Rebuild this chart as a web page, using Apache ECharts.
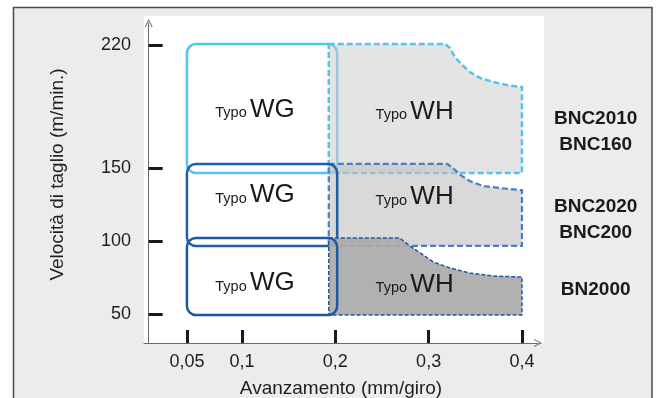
<!DOCTYPE html>
<html><head><meta charset="utf-8">
<script src="https://cdn.jsdelivr.net/npm/echarts@6/dist/echarts.min.js"></script>
<style>html,body{margin:0;padding:0;background:#fff}#c{width:656px;height:398px}</style>
</head><body><div id="c"></div>
<script>
// ---- axis ticks ----
const xTicks = [0.05, 0.1, 0.2, 0.3, 0.4];
const xTickLabels = ['0,05', '0,1', '0,2', '0,3', '0,4'];
const yTicks = [50, 100, 150, 220];
const yTickLabels = ['50', '100', '150', '220'];

// ---- WG zones (rounded boxes): feed range, speed range ----
const wgFeedFrom = [0.05, 0.05, 0.05];
const wgFeedTo = [0.202, 0.202, 0.202];
const wgSpeedTop = [220.7, 152.3, 102];
const wgSpeedBottom = [146.6, 96.6, 49.3];

// ---- WH zones (dashed outlines): feed / speed along the outline ----
const whTopFeed  = [0.193, 0.3175, 0.323, 0.328, 0.336, 0.344, 0.355, 0.369, 0.384, 0.4, 0.4, 0.193];
const whTopSpeed = [220.7, 220.7, 218.5, 213.3, 208.8, 204.8, 201.4, 199.1, 197.3, 196.2, 146.6, 146.6];
const whMidFeed  = [0.193, 0.32, 0.326, 0.334, 0.344, 0.358, 0.376, 0.398, 0.4, 0.4, 0.193];
const whMidSpeed = [152.3, 152.3, 150, 145.2, 141.1, 137.7, 136.3, 134.9, 134.9, 96.6, 96.6];
const whLowFeed  = [0.193, 0.269, 0.28, 0.291, 0.305, 0.323, 0.344, 0.369, 0.4, 0.4, 0.193];
const whLowSpeed = [102, 102, 96.6, 91.8, 85.6, 81.5, 78.1, 76.0, 75.3, 49.3, 49.3];

// ---- zone labels ----
const zoneType  = ['WG', 'WH', 'WG', 'WH', 'WG', 'WH'];
const zoneFeed  = [0.114, 0.285, 0.114, 0.285, 0.114, 0.285];
const zoneSpeed = [183.1, 182.0, 131.5, 130.1, 71.2, 69.9];

// ---- grade labels on the right ----
const gradeNames = ['BNC2010\nBNC160', 'BNC2020\nBNC200', 'BN2000'];
const gradeFeed  = [0.479, 0.479, 0.479];
const gradeSpeed = [170.5, 114.7, 66.4];

// schematic (non-linear) axis scales of the original drawing
const xWarp = v => v >= 0.1 ? v : 0.1 - (0.1 - v) * 1.18;
const yWarp = v => v <= 150 ? v : 150 + (v - 150) * 1.2;

const FONT = '"Liberation Sans", Arial, sans-serif';
const whShapes = [
  {feed: whTopFeed, speed: whTopSpeed, fill: 'rgba(205,205,205,0.55)', stroke: '#55c3f1', lw: 2.5, dash: [6, 3]},
  {feed: whMidFeed, speed: whMidSpeed, fill: 'rgba(190,190,190,0.59)', stroke: '#4c7ec2', lw: 2.2, dash: [6, 3]},
  {feed: whLowFeed, speed: whLowSpeed, fill: 'rgba(170,170,170,0.92)', stroke: '#2257a3', lw: 1.5, dash: [4, 2]}
];
const wgColors = ['#56c2f0', '#1c5ea9', '#1b58a4'];
const layers = [['wg', 0], ['wh', 0], ['wh', 1], ['wg', 1], ['wh', 2], ['wg', 2]];

const arrow = 'path://M0,10 L5,0 L10,10 L8.7,10 L5,2.6 L1.3,10 Z';

const chart = echarts.init(document.getElementById('c'), null, {renderer: 'canvas'});
chart.setOption({
  animation: false,
  backgroundColor: '#ffffff',
  graphic: {elements: [
    {type: 'rect', z: -100, shape: {x: 13.5, y: 7.5, width: 638.5, height: 420}, style: {fill: '#ececec', stroke: '#4a4a4a', lineWidth: 1.5}},
    {type: 'rect', z: -99, shape: {x: 144, y: 16, width: 400, height: 327}, style: {fill: '#ffffff'}}
  ]},
  grid: {left: 144, right: 118, top: 23, bottom: 55, containLabel: false, outerBoundsMode: 'none'},
  xAxis: {
    type: 'value', min: -0.005, max: 0.4172,
    axisLine: {show: true, lineStyle: {color: '#6a6a6a', width: 1}, symbol: ['none', arrow], symbolSize: [8, 11]},
    axisTick: {show: true, inside: true, length: 13, lineStyle: {color: '#1a1a1a', width: 3}, customValues: xTicks.map(xWarp)},
    axisLabel: {customValues: xTicks.map(xWarp), margin: 10, fontSize: 18, color: '#1e1e1e', fontFamily: FONT,
      formatter: v => { const i = xTicks.findIndex(t => Math.abs(xWarp(t) - v) < 1e-6); return i >= 0 ? xTickLabels[i] : ''; }},
    splitLine: {show: false},
    name: 'Avanzamento (mm/giro)', nameLocation: 'middle', nameGap: 36,
    nameTextStyle: {fontSize: 19, color: '#1e1e1e', fontFamily: FONT}
  },
  yAxis: {
    type: 'value', min: 30.14, max: 249.3,
    axisLine: {show: true, lineStyle: {color: '#6a6a6a', width: 1}, symbol: ['none', arrow], symbolSize: [8, 11]},
    axisTick: {show: true, inside: true, length: 14, lineStyle: {color: '#1a1a1a', width: 3}, customValues: yTicks.map(yWarp)},
    axisLabel: {customValues: yTicks.map(yWarp), margin: 13, fontSize: 18, color: '#1e1e1e', fontFamily: FONT,
      formatter: v => { const i = yTicks.findIndex(t => Math.abs(yWarp(t) - v) < 1e-6); return i >= 0 ? yTickLabels[i] : ''; }},
    splitLine: {show: false},
    name: 'Velocità di taglio (m/min.)', nameLocation: 'middle', nameGap: 77,
    nameTextStyle: {fontSize: 19, color: '#1e1e1e', fontFamily: FONT, padding: [0, 0, 0, 17]}
  },
  series: [
    {
      type: 'custom', z: 2,
      data: layers.map((l, k) => [xWarp(0.2), yWarp(100), k]),
      encode: {x: 0, y: 1},
      renderItem: function (params, api) {
        const k = api.value(2);
        const kind = layers[k][0], i = layers[k][1];
        if (kind === 'wg') {
          const p0 = api.coord([xWarp(wgFeedFrom[i]), yWarp(wgSpeedTop[i])]);
          const p1 = api.coord([xWarp(wgFeedTo[i]), yWarp(wgSpeedBottom[i])]);
          return {type: 'rect', shape: {x: p0[0], y: p0[1], width: p1[0] - p0[0], height: p1[1] - p0[1], r: 9},
            style: {fill: 'none', stroke: wgColors[i], lineWidth: 2.5}};
        }
        const s = whShapes[i];
        const pts = s.feed.map((f, j) => api.coord([xWarp(f), yWarp(s.speed[j])]));
        return {type: 'polygon', shape: {points: pts},
          style: {fill: s.fill, stroke: s.stroke, lineWidth: s.lw, lineDash: s.dash}};
      }
    },
    {
      type: 'scatter', z: 5, symbolSize: 0, itemStyle: {color: '#000', opacity: 1}, silent: true,
      data: zoneType.map((t, i) => ({value: [xWarp(zoneFeed[i]), yWarp(zoneSpeed[i])], name: t})),
      label: {show: true, position: 'inside', color: '#1a1a1a', textBorderWidth: 0, formatter: p => '{a|Typo} {b|' + p.name + '}',
        rich: {
          a: {fontSize: 14.5, color: '#1a1a1a', fontFamily: FONT, verticalAlign: 'bottom', lineHeight: 26, padding: [0, 0, 2, 0], textBorderWidth: 0},
          b: {fontSize: 26, color: '#1a1a1a', fontFamily: FONT, verticalAlign: 'bottom', lineHeight: 26, textBorderWidth: 0}
        }}
    },
    {
      type: 'scatter', z: 5, symbolSize: 0, clip: false, itemStyle: {color: '#000', opacity: 1}, silent: true,
      data: gradeNames.map((g, i) => ({value: [xWarp(gradeFeed[i]), yWarp(gradeSpeed[i])], name: g})),
      label: {show: true, position: 'inside', formatter: p => p.name, textBorderWidth: 0,
        fontSize: 19, fontWeight: 'bold', color: '#1a1a1a', fontFamily: FONT, lineHeight: 26, align: 'center'}
    }
  ]
});
</script>
</body></html>
